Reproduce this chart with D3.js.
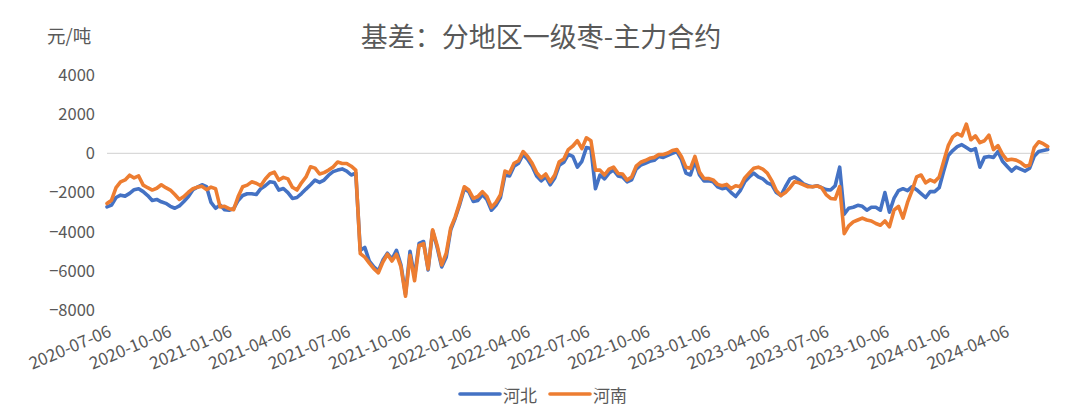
<!DOCTYPE html>
<html><head><meta charset="utf-8">
<script src="https://cdn.jsdelivr.net/npm/d3@7/dist/d3.min.js"></script>
<style>
html,body{margin:0;padding:0;background:#fff;}
svg{display:block;font-family:"Noto Sans CJK SC","Noto Sans",sans-serif;}
</style></head>
<body>
<svg id="chart" width="1080" height="418"></svg>
<script>
const title = "基差：分地区一级枣-主力合约";
const unitLabel = "元/吨";
const seriesNames = ["河北", "河南"];
const seriesColors = ["#4472C4", "#ED7D31"];
const startDate = "2020-07-06";
const stepDays = 6.9; // sampling interval of the values
const yTicks = [-8000, -6000, -4000, -2000, 0, 2000, 4000];
const xTickLabels = ["2020-07-06","2020-10-06","2021-01-06","2021-04-06","2021-07-06","2021-10-06",
  "2022-01-06","2022-04-06","2022-07-06","2022-10-06","2023-01-06","2023-04-06","2023-07-06",
  "2023-10-06","2024-01-06","2024-04-06"];

const hebei = [-2730,-2640,-2250,-2130,-2180,-2040,-1850,-1800,-1950,-2150,-2400,-2350,-2470,-2550,-2700,-2800,-2680,-2450,-2200,-1850,
-1720,-1600,-1700,-2500,-2800,-2640,-2880,-2900,-2820,-2400,-2150,-2060,-2060,-2100,-1800,-1650,-1450,-1480,-1870,-1790,
-2000,-2300,-2250,-2050,-1820,-1600,-1360,-1480,-1360,-1110,-930,-850,-790,-900,-1100,-1000,-4950,-4800,-5500,-5800,
-6000,-5450,-5100,-5400,-4950,-5700,-7200,-5000,-6300,-4600,-4500,-5950,-3950,-4800,-5800,-5300,-3900,-3300,-2600,-1800,
-1950,-2450,-2400,-2100,-2350,-2900,-2650,-2250,-1100,-1150,-650,-500,-50,-300,-650,-1150,-1400,-1200,-1600,-1250,
-600,-450,-50,-150,-700,-400,300,250,-1800,-1100,-1300,-1000,-850,-1150,-1200,-1450,-1350,-800,-600,-500,
-400,-350,-150,-200,-100,0,100,-300,-1000,-1100,-400,-1100,-1400,-1400,-1450,-1700,-1800,-1750,-2000,-2200,
-1900,-1450,-1200,-1000,-1200,-1300,-1500,-1600,-2000,-2150,-1700,-1300,-1200,-1350,-1550,-1650,-1700,-1650,-1750,-1850,
-1870,-1650,-700,-3100,-2800,-2750,-2650,-2700,-2900,-2750,-2750,-2900,-2000,-3000,-2300,-1900,-1800,-1900,-1700,-1850,
-2050,-2250,-1950,-1950,-1750,-900,-100,150,350,450,300,150,250,-700,-200,-150,-200,100,-400,-650,
-900,-700,-800,-900,-750,-150,100,150,200];

const henan = [-2560,-2390,-1750,-1450,-1350,-1110,-1250,-1150,-1620,-1750,-1870,-1780,-1600,-1750,-1870,-2100,-2350,-2200,-1980,-1800,
-1720,-1680,-1850,-1720,-1800,-2730,-2700,-2820,-2870,-2200,-1700,-1620,-1450,-1520,-1650,-1300,-1050,-950,-1360,-1220,
-1300,-1730,-1870,-1500,-1200,-680,-750,-1050,-980,-850,-690,-440,-510,-510,-650,-850,-5120,-5300,-5600,-5890,
-6100,-5550,-5150,-5500,-5150,-5800,-7300,-5200,-6500,-4700,-4610,-5900,-3900,-4700,-5700,-5100,-3800,-3240,-2500,-1700,
-1870,-2300,-2200,-1950,-2200,-2750,-2500,-2100,-900,-1000,-500,-370,100,-150,-500,-980,-1250,-1050,-1450,-1100,
-420,-280,200,380,650,250,800,650,-850,-850,-1100,-800,-700,-1020,-1050,-1360,-1200,-650,-450,-360,
-250,-200,-50,-50,20,150,200,-150,-700,-760,-150,-950,-1280,-1280,-1350,-1580,-1650,-1580,-1790,-1650,
-1700,-1250,-1000,-760,-700,-800,-1000,-1400,-1900,-2150,-2000,-1750,-1450,-1500,-1600,-1700,-1700,-1660,-1750,-2100,
-2300,-2330,-1700,-4100,-3700,-3500,-3400,-3300,-3400,-3450,-3580,-3670,-3450,-3750,-2900,-2700,-3300,-2500,-1900,-1200,
-1100,-1500,-1350,-1450,-1200,-400,400,850,1020,900,1500,700,900,550,650,940,200,400,-50,-340,
-300,-340,-450,-650,-600,300,600,500,350];

const parse = d3.utcParse("%Y-%m-%d");
const t0 = parse(startDate);
const dates = hebei.map((_, i) => new Date(t0.getTime() + i * stepDays * 86400000));
const tickDates = xTickLabels.map(parse);

const svg = d3.select("#chart");
svg.append("rect").attr("width",1080).attr("height",418).attr("fill","#fff");

const x = d3.scaleUtc().domain([tickDates[0], tickDates[tickDates.length-1]]).range([107, 1005]);
const y = d3.scaleLinear().domain([-8000, 4000]).range([310, 75.2]);

// zero line
svg.append("line").attr("x1", x(dates[0])).attr("x2", x(dates[dates.length-1]) + 1)
  .attr("y1", y(0)).attr("y2", y(0)).attr("stroke", "#D9D9D9").attr("stroke-width", 1.3);

// y axis
const yAxis = svg.append("g").attr("transform", "translate(107,0)")
  .call(d3.axisLeft(y).tickValues(yTicks).tickSize(0).tickPadding(12).tickFormat(d3.format("d")));
yAxis.select(".domain").remove();
yAxis.selectAll("text").attr("fill", "#595959").style("font-size", "16.5px")
  .style("font-family", "'Noto Sans CJK SC', sans-serif");

// x axis labels
const xAxis = svg.append("g").attr("transform", "translate(0,324)")
  .call(d3.axisBottom(x).tickValues(tickDates).tickSize(0).tickFormat((d, i) => xTickLabels[i]));
xAxis.select(".domain").remove();
xAxis.selectAll("text").attr("fill", "#595959").style("font-size", "17px")
  .style("font-family", "'Noto Sans CJK SC', sans-serif")
  .attr("text-anchor", "end").attr("y", 0).attr("dy", "0.75em")
  .attr("transform", "rotate(-23)");

// lines
const line = d3.line().x((d, i) => x(dates[i])).y(d => y(d));
[hebei, henan].forEach((s, k) => {
  svg.append("path").datum(s).attr("d", line).attr("fill", "none")
    .attr("stroke", seriesColors[k]).attr("stroke-width", 3.6)
    .attr("stroke-linejoin", "round").attr("stroke-linecap", "round");
});

// title and unit
svg.append("text").attr("x", 541).attr("y", 35).attr("text-anchor", "middle")
  .attr("dominant-baseline", "central").attr("fill", "#595959")
  .style("font-size", "27px").text(title);
svg.append("text").attr("x", 47).attr("y", 35).attr("dominant-baseline", "central")
  .attr("fill", "#595959").style("font-size", "18.5px").text(unitLabel);

// legend
const legendX = [460, 550];
seriesNames.forEach((n, k) => {
  const g = svg.append("g");
  g.append("line").attr("x1", legendX[k]).attr("x2", legendX[k] + 40).attr("y1", 394).attr("y2", 394)
    .attr("stroke", seriesColors[k]).attr("stroke-width", 3.6).attr("stroke-linecap", "round");
  g.append("text").attr("x", legendX[k] + 43).attr("y", 394).attr("dominant-baseline", "central")
    .attr("fill", "#595959").style("font-size", "17px").text(n);
});
</script>
</body></html>
